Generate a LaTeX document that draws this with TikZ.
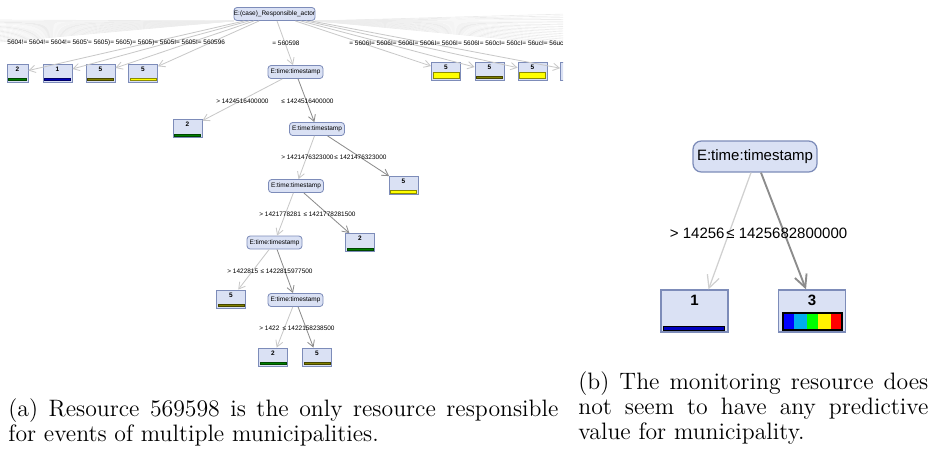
\documentclass[tikz,border=0pt]{standalone}
\usepackage{fontspec}
\newfontfamily\treefont{Liberation Sans}
\usetikzlibrary{arrows.meta,calc}
\definecolor{wkfill}{RGB}{218,225,244}
\definecolor{wkborder}{RGB}{125,140,185}
\definecolor{wklight}{RGB}{200,200,200}
\definecolor{wkdark}{RGB}{140,140,140}
\definecolor{wkfan}{RGB}{236,236,236}
\definecolor{bargreen}{RGB}{0,128,0}
\definecolor{barblue}{RGB}{0,0,190}
\definecolor{barolive}{RGB}{128,128,0}
\definecolor{baryellow}{RGB}{255,255,0}
\newcommand{\leafbar}[3]{\filldraw[draw=#2!55!black, fill=#2, line width=0.3pt]
  ($(#1.south west)+(2,-2)$) rectangle ($(#1.south east)+(-2,-2-#3)$);}

\begin{document}
\begin{tikzpicture}[x=0.48pt, y=-0.48pt,
  tnode/.style={rectangle, rounded corners=1.5pt, draw=wkborder, fill=wkfill, line width=0.4pt,
                minimum width=55*0.48pt, minimum height=13*0.48pt, inner sep=0pt,
                font=\treefont\fontsize{3.1}{3.5}\selectfont},
  leaf/.style={rectangle, draw=wkborder, fill=wkfill, line width=0.4pt,
               minimum width=29*0.48pt, minimum height=18*0.48pt, inner sep=0pt,
               label={[leafnum]north:#1}},
  leafnum/.style={anchor=north, inner sep=1.3pt, font=\treefont\bfseries\fontsize{3.1}{3.5}\selectfont},
  elabel/.style={inner sep=0pt, font=\treefont\fontsize{3.1}{3.5}\selectfont},
  lo/.style={-{Straight Barb[length=3pt,width=3.5pt]}, draw=wklight, line width=0.4pt},
  hi/.style={-{Straight Barb[length=3pt,width=3.5pt]}, draw=wkdark, line width=0.4pt},
  fan/.style={draw=wkfan, line width=0.3pt},
  bignode/.style={rectangle, rounded corners=4pt, draw=wkborder, fill=wkfill, line width=0.6pt,
                  minimum width=124*0.48pt, minimum height=31*0.48pt, inner sep=0pt,
                  font=\treefont\fontsize{7.2}{8}\selectfont},
  bigleaf/.style={rectangle, draw=wkborder, fill=wkfill, line width=0.6pt,
                  minimum width=67*0.48pt, minimum height=42*0.48pt, inner sep=0pt,
                  label={[bignum]north:#1}},
  bignum/.style={anchor=north, inner sep=2.5pt, font=\treefont\bfseries\fontsize{7.2}{8}\selectfont},
  biglabel/.style={inner sep=0pt, font=\treefont\fontsize{7.2}{8}\selectfont},
  biglo/.style={-{Straight Barb[length=6pt,width=6pt]}, draw=wklight!85!white, line width=0.6pt},
  bighi/.style={-{Straight Barb[length=6pt,width=6pt]}, draw=wkdark, line width=0.9pt},
  caption/.style={inner sep=0pt, anchor=north west, align=justify, font=\fontsize{11.4}{12}\selectfont}
]
\useasboundingbox (0,0) rectangle (936,453);

\begin{scope}
\clip (0,0) rectangle (563,375);
\node[tnode] (root) at (274.5,14) {E:(case)\_Responsible\_actor};

\foreach \i in {0,...,17} {
  \coordinate (fl\i) at (-2,20+1.3*\i);
  \draw[fan] (root.south west) -- (fl\i);
}
\foreach \i in {0,...,17} {
  \coordinate (fr\i) at (566,14+1.8*\i);
  \draw[fan] (root.south east) -- (fr\i);
}

\node[leaf=2, minimum width=21*0.48pt] (lA) at (17.5,73) {};
\node[leaf=1] (lB) at (57.5,73) {};
\node[leaf=5] (lC) at (100.5,73) {};
\node[leaf=5] (lD) at (143,73) {};
\node[leaf=5] (rA) at (446,71) {};
\node[leaf=5] (rB) at (489.5,71) {};
\node[leaf=5] (rC) at (532.5,71) {};
\node[leaf=5] (rD) at (575,71) {};

\node[tnode] (t1) at (295.5,72) {E:time:timestamp};
\node[tnode] (t2) at (317,129) {E:time:timestamp};
\node[tnode] (t3) at (296,186) {E:time:timestamp};
\node[tnode] (t4) at (274.5,242.5) {E:time:timestamp};
\node[tnode] (t5) at (295.5,300) {E:time:timestamp};

\node[leaf=2] (l2) at (187.5,128.5) {};
\node[leaf=5] (l5a) at (403.5,185.5) {};
\node[leaf=2] (l2b) at (360,242.5) {};
\node[leaf=5] (l5b) at (231,299) {};
\node[leaf=2] (l2c) at (273,357) {};
\node[leaf=5] (l5c) at (317,357) {};

\foreach \n in {lA,lB,lC,lD,rA,rB,rC,rD,t1}
  \draw[lo] (root) -- (\n);

\draw[lo] (t1) -- (l2);
\draw[hi] (t1) -- (t2);
\draw[lo] (t2) -- (t3);
\draw[hi] (t2) -- (l5a);
\draw[lo] (t3) -- (t4);
\draw[hi] (t3) -- (l2b);
\draw[lo] (t4) -- (l5b);
\draw[hi] (t4) -- (t5);
\draw[lo] (t5) -- (l2c);
\draw[hi] (t5) -- (l5c);

\leafbar{lA}{bargreen}{2}
\leafbar{lB}{barblue}{2}
\leafbar{lC}{barolive}{2}
\leafbar{lD}{baryellow}{2}
\leafbar{rA}{baryellow}{6}
\leafbar{rB}{barolive}{2}
\leafbar{rC}{baryellow}{6}
\leafbar{l2}{bargreen}{2}
\leafbar{l5a}{baryellow}{3}
\leafbar{l2b}{bargreen}{2}
\leafbar{l5b}{barolive}{2}
\leafbar{l2c}{bargreen}{2}
\leafbar{l5c}{barolive}{2}

\node[elabel, anchor=west] (rl1) at (7,43)
  {5604!= 5604!= 5604!= 5605'= 5605)= 5605)= 5605)= 5605I= 5605I= 560596};
\node[elabel, anchor=west] (rl2) at (272,43) {= 560598};
\node[elabel, anchor=west] (rl3) at (349,43)
  {= 5606I= 5606I= 5606I= 5606I= 5606I= 5606I= 560cI= 560cI= 56ucI= 56uc};

\node[elabel, anchor=east] (e1a) at (269,101) {> 1424516400000};
\node[elabel, anchor=west] (e1b) at (281,101) {≤ 1424516400000};
\node[elabel, anchor=east] (e2a) at (334,157) {> 1421476323000};
\node[elabel, anchor=west] (e2b) at (334,157) {≤ 1421476323000};
\node[elabel, anchor=west] (e3a) at (259,214) {> 1421778281};
\node[elabel, anchor=east] (e3b) at (356,214) {≤ 1421778281500};
\node[elabel, anchor=west] (e4a) at (227,271) {> 1422815};
\node[elabel, anchor=east] (e4b) at (313,271) {≤ 1422815977500};
\node[elabel, anchor=west] (e5a) at (259,328) {> 1422};
\node[elabel, anchor=east] (e5b) at (335,328) {≤ 1422158238500};
\end{scope}

\node[bignode] (pr) at (755,156.5) {E:time:timestamp};
\node[bigleaf=1] (pb1) at (694.5,311) {};
\node[bigleaf=3] (pb3) at (812,311) {};
\draw[biglo] ($(pr.south)+(-4,0)$) -- ($(pb1.north)+(14,0)$);
\draw[bighi] ($(pr.south)+(6,0)$) -- ($(pb3.north)+(-6,0)$);
\node[biglabel, anchor=east] (pla) at (725,233) {> 14256};
\node[biglabel, anchor=west] (plb) at (726,233) {≤ 1425682800000};

\filldraw[fill=barblue, draw=black, line width=0.5pt]
  ($(pb1.south west)+(3,-2)$) rectangle ($(pb1.south east)+(-4,-6)$);
\foreach \c/\a/\b in {blue/783/794, cyan/794/807, green/807/818, yellow/818/831, red/831/842}
  \fill[\c] (\a,313) rectangle (\b,330);
\draw[black, line width=0.6pt] (783,313) rectangle (842,330);

\node[caption, text width=264pt] (capa) at (8,398)
  {(a) Resource 569598 is the only resource responsible\linebreak for events of multiple municipalities.};
\node[caption, text width=168pt] (capb) at (578,371)
  {(b) The monitoring resource does\linebreak not seem to have any predictive\linebreak value for municipality.};
\end{tikzpicture}
\end{document}
